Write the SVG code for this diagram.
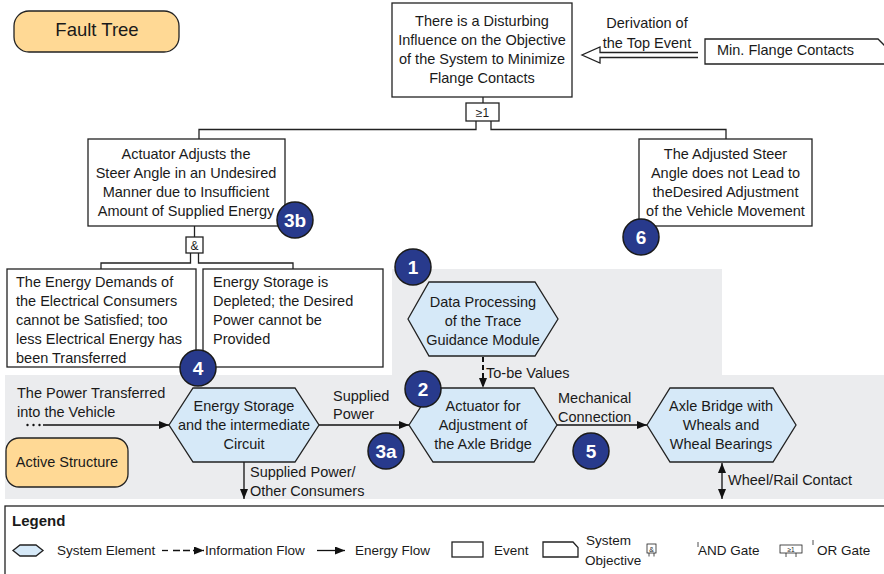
<svg xmlns="http://www.w3.org/2000/svg" width="884" height="574" viewBox="0 0 884 574">
  <defs>
    <style>
      text { font-family: "Liberation Sans", Arial, sans-serif; font-size: 14.5px; fill: #1a1a1a; }
      .c { text-anchor: middle; }
      .box { fill: #ffffff; stroke: #222222; stroke-width: 1.3; }
      .hex { fill: #d6e9f8; stroke: #222222; stroke-width: 1.3; }
      .term { fill: #ffd995; stroke: #222222; stroke-width: 1.3; }
      .wire { fill: none; stroke: #222222; stroke-width: 1.3; }
      .flow { fill: none; stroke: #111111; stroke-width: 1.3; }
      .info { fill: none; stroke: #111111; stroke-width: 2; stroke-dasharray: 5 3; }
      .badge circle { fill: #283a8c; stroke: #1a1a1a; stroke-width: 1.5; }
      .badge text { fill: #ffffff; font-weight: bold; font-size: 19px; text-anchor: middle; }
      .gate { font-size: 12px; text-anchor: middle; }
      .leg { font-size: 13.5px; }
      .thin { fill: none; stroke: #222222; stroke-width: 0.8; }
    </style>
    <marker id="arrow" viewBox="0 0 10 8" refX="10" refY="4" markerWidth="10" markerHeight="8" markerUnits="userSpaceOnUse" orient="auto-start-reverse">
      <path d="M0,0 L10,4 L0,8 z" fill="#111111"/>
    </marker>
  </defs>

  <!-- background areas of the active structure -->
  <rect x="392" y="269" width="330" height="107" fill="#ebecee"/>
  <rect x="5" y="375" width="879" height="124" fill="#ebecee"/>

  <!-- connectors -->
  <g id="connectors">
    <!-- fault tree wiring -->
    <polyline class="wire" points="483,97 483,103"/>
    <polyline class="wire" points="476,121 476,129.5 199,129.5 199,139"/>
    <polyline class="wire" points="491,121 491,129.5 726,129.5 726,139"/>
    <polyline class="wire" points="194.5,226 194.5,237"/>
    <polyline class="wire" points="190.5,253 190.5,263 101,263 101,269"/>
    <polyline class="wire" points="198.5,253 198.5,263 293,263 293,269"/>
    <!-- derivation arrow -->
    <polyline class="wire" points="698,52.5 600,52.5 600,47 582,55 600,63 600,57.5 698,57.5"/>
    <!-- flows -->
    <g fill="#111111">
      <circle cx="27.5" cy="425" r="1.2"/>
      <circle cx="33.5" cy="425" r="1.2"/>
      <circle cx="39.5" cy="425" r="1.2"/>
    </g>
    <line class="flow" x1="43" y1="425" x2="169" y2="425" marker-end="url(#arrow)"/>
    <line class="flow" x1="319" y1="425" x2="409" y2="425" marker-end="url(#arrow)"/>
    <line class="flow" x1="557" y1="425" x2="647" y2="425" marker-end="url(#arrow)"/>
    <line class="flow" x1="244" y1="462" x2="244" y2="499" marker-end="url(#arrow)"/>
    <line class="flow" x1="722" y1="463" x2="722" y2="499" marker-start="url(#arrow)" marker-end="url(#arrow)"/>
    <line class="info" x1="483" y1="357" x2="483" y2="388" marker-end="url(#arrow)"/>
    <!-- flow labels -->
    <text x="647" y="28" class="c">Derivation of</text>
    <text x="647" y="48" class="c">the Top Event</text>
    <text x="17" y="398">The Power Transferred</text>
    <text x="17" y="417">into the Vehicle</text>
    <text x="333" y="401">Supplied</text>
    <text x="333" y="419">Power</text>
    <text x="250" y="477">Supplied Power/</text>
    <text x="250" y="496">Other Consumers</text>
    <text x="486" y="378">To-be Values</text>
    <text x="558" y="403">Mechanical</text>
    <text x="558" y="422">Connection</text>
    <text x="728" y="485">Wheel/Rail Contact</text>
  </g>

  <!-- labels of the two views -->
  <g id="fault-tree-label">
    <rect class="term" x="14" y="11" width="165" height="41" rx="15"/>
    <text x="97" y="36" class="c" style="font-size:18.5px">Fault Tree</text>
  </g>
  <g id="active-structure-label">
    <rect class="term" x="6" y="438" width="122" height="49" rx="13"/>
    <text x="67" y="467" class="c">Active Structure</text>
  </g>

  <!-- system objective -->
  <g id="objective">
    <path class="box" d="M705,39 H878 L890,51 V64 H705 Z"/>
    <text x="717" y="55">Min. Flange Contacts</text>
  </g>

  <!-- events -->
  <g id="top-event">
    <rect class="box" x="392" y="3" width="180" height="94"/>
    <text x="482" y="26" class="c">There is a Disturbing</text>
    <text x="482" y="45" class="c">Influence on the Objective</text>
    <text x="482" y="64" class="c">of the System to Minimize</text>
    <text x="482" y="83" class="c">Flange Contacts</text>
  </g>
  <g id="or-gate">
    <rect class="box" x="466" y="103" width="33" height="18"/>
    <text x="482.5" y="117" class="gate">≥1</text>
  </g>
  <g id="event-actuator">
    <rect class="box" x="88" y="139" width="197" height="87"/>
    <text x="186" y="159" class="c">Actuator Adjusts the</text>
    <text x="186" y="178" class="c">Steer Angle in an Undesired</text>
    <text x="186" y="197" class="c">Manner due to Insufficient</text>
    <text x="186" y="216" class="c">Amount of Supplied Energy</text>
  </g>
  <g id="event-steer">
    <rect class="box" x="639" y="139" width="173" height="87"/>
    <text x="725.5" y="159" class="c">The Adjusted Steer</text>
    <text x="725.5" y="178" class="c">Angle does not Lead to</text>
    <text x="725.5" y="197" class="c">theDesired Adjustment</text>
    <text x="725.5" y="216" class="c">of the Vehicle Movement</text>
  </g>
  <g id="and-gate">
    <rect class="box" x="186" y="237" width="17" height="16"/>
    <text x="194.5" y="250" class="gate">&amp;</text>
  </g>
  <g id="event-demands">
    <rect class="box" x="7" y="269" width="189" height="98"/>
    <text x="16" y="287">The Energy Demands of</text>
    <text x="16" y="306">the Electrical Consumers</text>
    <text x="16" y="325">cannot be Satisfied; too</text>
    <text x="16" y="344">less Electrical Energy has</text>
    <text x="16" y="362.5">been Transferred</text>
  </g>
  <g id="event-storage">
    <rect class="box" x="203" y="269" width="180" height="98"/>
    <text x="213" y="287">Energy Storage is</text>
    <text x="213" y="306">Depleted; the Desired</text>
    <text x="213" y="325">Power cannot be</text>
    <text x="213" y="344">Provided</text>
  </g>

  <!-- system elements -->
  <g id="data-processing">
    <polygon class="hex" points="408,319 429,282 535,282 558,319 535,356 429,356"/>
    <text x="483" y="307" class="c">Data Processing</text>
    <text x="483" y="326" class="c">of the Trace</text>
    <text x="483" y="345" class="c">Guidance Module</text>
  </g>
  <g id="energy-storage">
    <polygon class="hex" points="169,425 193,388 295,388 319,425 295,462 193,462"/>
    <text x="244" y="411" class="c">Energy Storage</text>
    <text x="244" y="430" class="c">and the intermediate</text>
    <text x="244" y="449" class="c">Circuit</text>
  </g>
  <g id="actuator">
    <polygon class="hex" points="409,425 433,388 534,388 557,425 534,462 433,462"/>
    <text x="483" y="411" class="c">Actuator for</text>
    <text x="483" y="430" class="c">Adjustment of</text>
    <text x="483" y="449" class="c">the Axle Bridge</text>
  </g>
  <g id="axle-bridge">
    <polygon class="hex" points="647,425 670,388 773,388 796,425 773,462 670,462"/>
    <text x="721" y="411" class="c">Axle Bridge with</text>
    <text x="721" y="430" class="c">Wheals and</text>
    <text x="721" y="449" class="c">Wheal Bearings</text>
  </g>

  <!-- numbered markers -->
  <g id="badge-1" class="badge"><circle cx="413" cy="267" r="18"/><text x="413" y="274">1</text></g>
  <g id="badge-2" class="badge"><circle cx="423" cy="389" r="18"/><text x="423" y="396">2</text></g>
  <g id="badge-3a" class="badge"><circle cx="386" cy="451" r="18"/><text x="386" y="458">3a</text></g>
  <g id="badge-3b" class="badge"><circle cx="295" cy="220" r="18"/><text x="295" y="227">3b</text></g>
  <g id="badge-4" class="badge"><circle cx="198" cy="368" r="18"/><text x="198" y="375">4</text></g>
  <g id="badge-5" class="badge"><circle cx="591" cy="451" r="18"/><text x="591" y="458">5</text></g>
  <g id="badge-6" class="badge"><circle cx="641" cy="237" r="18"/><text x="641" y="244">6</text></g>

  <!-- legend -->
  <g id="legend">
    <rect x="5" y="506" width="890" height="80" fill="#ffffff" stroke="#222222" stroke-width="1.3"/>
    <text x="12" y="526" style="font-weight:bold;font-size:15px">Legend</text>
    <polygon class="hex" points="13,550.5 20,545 36,545 43,550.5 36,556 20,556"/>
    <text x="57" y="555" class="leg">System Element</text>
    <line x1="162" y1="550.5" x2="168" y2="550.5" stroke="#111111" stroke-width="1.3"/>
    <line x1="173" y1="550.5" x2="204" y2="550.5" stroke="#111111" stroke-width="1.3" stroke-dasharray="7 3" marker-end="url(#arrow)"/>
    <text x="205" y="555" class="leg">Information Flow</text>
    <line x1="317" y1="550.5" x2="345" y2="550.5" class="flow" marker-end="url(#arrow)"/>
    <text x="355" y="555" class="leg">Energy Flow</text>
    <rect class="box" x="452" y="542" width="31" height="15"/>
    <text x="494" y="555" class="leg">Event</text>
    <path class="box" d="M543,542 H573 L578,547.5 V557 H543 Z"/>
    <text x="586" y="545" class="leg">System</text>
    <text x="585" y="565" class="leg">Objective</text>
    <!-- AND gate symbol -->
    <rect x="647" y="544" width="9" height="9" fill="#ffffff" stroke="#222222" stroke-width="0.8"/>
    <text x="651.5" y="551.5" style="font-size:7px" class="c">&amp;</text>
    <line class="thin" x1="649" y1="553" x2="649" y2="556.5"/>
    <line class="thin" x1="654" y1="553" x2="654" y2="556.5"/>
    <line class="thin" x1="698" y1="542" x2="698" y2="547"/>
    <text x="698" y="555" class="leg">AND Gate</text>
    <!-- OR gate symbol -->
    <rect x="780" y="545" width="22" height="8" fill="#ffffff" stroke="#222222" stroke-width="0.8"/>
    <text x="791" y="551.5" style="font-size:6.5px" class="c">≥1</text>
    <line class="thin" x1="786" y1="553" x2="786" y2="557"/>
    <line class="thin" x1="796" y1="553" x2="796" y2="557"/>
    <line class="thin" x1="813" y1="540" x2="813" y2="545"/>
    <text x="817" y="555" class="leg">OR Gate</text>
  </g>
</svg>
